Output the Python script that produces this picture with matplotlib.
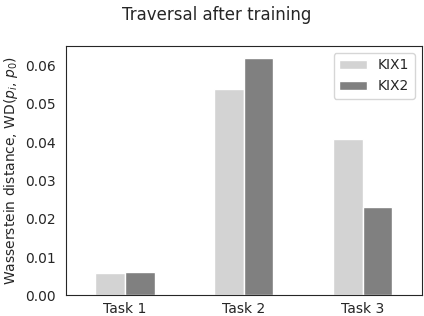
import pandas as pd
import numpy as np
import matplotlib
matplotlib.use("Agg")
import matplotlib.pyplot as plt
import seaborn as sns

tasks = ["Task 1", "Task 2", "Task 3"]
kix1 = [0.0058, 0.0539, 0.0408]
kix2 = [0.0061, 0.0620, 0.0230]

sns.set_style("white")
plt.rcParams['font.family'] = ['DejaVu Sans']

df = pd.DataFrame({"KIX1": kix1, "KIX2": kix2}, index=tasks)

fig, ax = plt.subplots(figsize=(4.24, 3.16), dpi=100)
df.plot.bar(ax=ax, color=["lightgrey", "grey"], rot=0)
ax.set_ylabel(r"Wasserstein distance, WD($p_i$, $p_0$)")
fig.suptitle("Traversal after training", x=0.51)
ax.legend(loc="upper right")
ax.tick_params(axis="x", pad=1.5)
fig.subplots_adjust(left=0.155, right=0.995, top=0.855, bottom=0.065)
fig.savefig("out.png", dpi=100)
